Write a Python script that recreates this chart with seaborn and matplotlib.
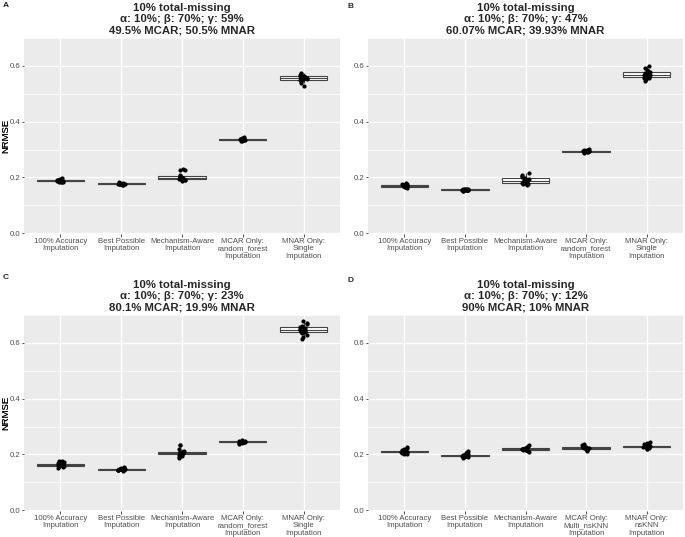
import numpy as np
import pandas as pd
import matplotlib
matplotlib.use("Agg")
import matplotlib.pyplot as plt
import seaborn as sns
from matplotlib.ticker import MultipleLocator

# Method labels
methods_rf = ["100% Accuracy\nImputation", "Best Possible\nImputation",
              "Mechanism-Aware\nImputation", "MCAR Only:\nrandom_forest\nImputation",
              "MNAR Only:\nSingle\nImputation"]
methods_knn = ["100% Accuracy\nImputation", "Best Possible\nImputation",
               "Mechanism-Aware\nImputation", "MCAR Only:\nMulti_nsKNN\nImputation",
               "MNAR Only:\nnsKNN\nImputation"]

titles = ["10% total-missing\nα: 10%; β: 70%; γ: 59%\n49.5% MCAR; 50.5% MNAR",
          "10% total-missing\nα: 10%; β: 70%; γ: 47%\n60.07% MCAR; 39.93% MNAR",
          "10% total-missing\nα: 10%; β: 70%; γ: 23%\n80.1% MCAR; 19.9% MNAR",
          "10% total-missing\nα: 10%; β: 70%; γ: 12%\n90% MCAR; 10% MNAR"]
panel_tags = ["A", "B", "C", "D"]

# NRMSE values
# Panel A
a_acc = [0.183, 0.185, 0.186, 0.187, 0.188, 0.184, 0.189, 0.190, 0.186, 0.187, 0.192, 0.195, 0.198, 0.182, 0.188, 0.191]
a_best = [0.175, 0.176, 0.177, 0.178, 0.177, 0.179, 0.176, 0.180, 0.178, 0.174, 0.177, 0.183, 0.181, 0.175, 0.178, 0.172]
a_mech = [0.190, 0.192, 0.194, 0.196, 0.197, 0.198, 0.200, 0.202, 0.195, 0.193, 0.204, 0.203, 0.186, 0.225, 0.230, 0.228, 0.210, 0.199]
a_mcar = [0.332, 0.334, 0.335, 0.336, 0.337, 0.338, 0.333, 0.335, 0.336, 0.339, 0.341, 0.344, 0.330, 0.334, 0.337, 0.335]
a_mnar = [0.548, 0.550, 0.552, 0.554, 0.556, 0.557, 0.559, 0.561, 0.563, 0.565, 0.568, 0.572, 0.576, 0.545, 0.540, 0.528, 0.553, 0.558]

# Panel B
b_acc = [0.164, 0.166, 0.167, 0.168, 0.169, 0.170, 0.172, 0.174, 0.175, 0.178, 0.180, 0.162, 0.168, 0.171, 0.165, 0.176]
b_best = [0.153, 0.154, 0.155, 0.156, 0.156, 0.157, 0.155, 0.158, 0.159, 0.157, 0.154, 0.156, 0.160, 0.152, 0.156, 0.155]
b_mech = [0.172, 0.176, 0.179, 0.181, 0.183, 0.185, 0.186, 0.188, 0.190, 0.192, 0.195, 0.197, 0.200, 0.205, 0.210, 0.215, 0.184, 0.178]
b_mcar = [0.289, 0.291, 0.292, 0.293, 0.294, 0.294, 0.295, 0.296, 0.297, 0.298, 0.300, 0.302, 0.293, 0.295, 0.291, 0.296]
b_mnar = [0.546, 0.552, 0.556, 0.558, 0.561, 0.564, 0.566, 0.568, 0.570, 0.573, 0.576, 0.579, 0.582, 0.586, 0.591, 0.600, 0.560, 0.567]

# Panel C
c_acc = [0.153, 0.156, 0.158, 0.159, 0.160, 0.161, 0.162, 0.163, 0.164, 0.165, 0.166, 0.168, 0.171, 0.175, 0.178, 0.160]
c_best = [0.141, 0.143, 0.144, 0.145, 0.146, 0.146, 0.147, 0.148, 0.149, 0.151, 0.154, 0.145, 0.147, 0.143, 0.150, 0.146]
c_mech = [0.186, 0.190, 0.196, 0.199, 0.201, 0.202, 0.203, 0.204, 0.205, 0.206, 0.207, 0.208, 0.210, 0.213, 0.218, 0.232, 0.233, 0.204]
c_mcar = [0.239, 0.241, 0.242, 0.243, 0.244, 0.245, 0.245, 0.246, 0.247, 0.248, 0.249, 0.251, 0.244, 0.246, 0.243, 0.247]
c_mnar = [0.615, 0.622, 0.628, 0.634, 0.638, 0.640, 0.642, 0.644, 0.645, 0.647, 0.649, 0.652, 0.655, 0.658, 0.662, 0.668, 0.673, 0.678, 0.641, 0.646]

# Panel D
d_acc = [0.200, 0.203, 0.205, 0.207, 0.208, 0.209, 0.210, 0.210, 0.211, 0.212, 0.213, 0.215, 0.218, 0.222, 0.226, 0.209]
d_best = [0.188, 0.190, 0.192, 0.193, 0.194, 0.195, 0.196, 0.196, 0.197, 0.198, 0.199, 0.201, 0.204, 0.208, 0.212, 0.195]
d_mech = [0.210, 0.212, 0.214, 0.216, 0.217, 0.218, 0.219, 0.219, 0.220, 0.221, 0.222, 0.224, 0.227, 0.231, 0.235, 0.218]
d_mcar = [0.213, 0.216, 0.218, 0.220, 0.221, 0.222, 0.223, 0.223, 0.224, 0.225, 0.226, 0.228, 0.231, 0.235, 0.238, 0.222]
d_mnar = [0.218, 0.221, 0.223, 0.225, 0.226, 0.227, 0.228, 0.228, 0.229, 0.230, 0.231, 0.233, 0.236, 0.240, 0.245, 0.227]

panels = [
    (methods_rf, [a_acc, a_best, a_mech, a_mcar, a_mnar]),
    (methods_rf, [b_acc, b_best, b_mech, b_mcar, b_mnar]),
    (methods_rf, [c_acc, c_best, c_mech, c_mcar, c_mnar]),
    (methods_knn, [d_acc, d_best, d_mech, d_mcar, d_mnar]),
]

sns.set_theme(style="darkgrid", rc={"axes.facecolor": "#EBEBEB", "grid.color": "white"})
plt.rcParams['font.family'] = ['Liberation Sans', 'DejaVu Sans']

np.random.seed(3)
W, H = 685, 537
fig = plt.figure(figsize=(W / 100, H / 100), dpi=100)

# panel boxes in pixels: left, top, right, bottom
boxes = [(24, 38, 340, 234), (368, 38, 683, 234),
         (24, 315, 340, 511), (368, 315, 683, 511)]
tag_pos = [(3, 2), (348, 3), (3, 274), (348, 277)]

for i, (methods, series) in enumerate(panels):
    l, t, r, b = boxes[i]
    ax = fig.add_axes([l / W, 1 - b / H, (r - l) / W, (b - t) / H])
    df = pd.DataFrame({
        "method": np.repeat(methods, [len(s) for s in series]),
        "nrmse": np.concatenate(series),
    })
    sns.boxplot(data=df, x="method", y="nrmse", order=methods, color="white",
                linecolor="#444444", linewidth=0.8, width=0.78,
                showfliers=False, showcaps=False, ax=ax)
    sns.stripplot(data=df, x="method", y="nrmse", order=methods, color="black",
                  size=3.0, jitter=0.06, ax=ax)
    ax.set_ylim(-0.003, 0.70)
    ax.set_xlim(-0.6, 4.6)
    ax.yaxis.set_minor_locator(MultipleLocator(0.1))
    ax.set_yticks([0.0, 0.2, 0.4, 0.6])
    ax.set_yticklabels(["0.0", "0.2", "0.4", "0.6"])
    ax.grid(True, which="major", axis="both", color="white", linewidth=1.0)
    ax.grid(True, which="minor", axis="y", color="white", linewidth=0.5)
    ax.set_axisbelow(True)
    for sp in ax.spines.values():
        sp.set_visible(False)
    ax.tick_params(axis="both", which="major", length=1.8, width=0.6,
                   color="#333333", labelcolor="#4D4D4D", labelsize=5.6, pad=0.8)
    ax.tick_params(axis="both", which="minor", length=0)
    ax.tick_params(axis="x", which="major", bottom=True)
    ax.tick_params(axis="y", which="major", left=True)
    for lab in ax.get_xticklabels():
        lab.set_linespacing(1.12)
    ax.set_xlabel("")
    ax.set_ylabel("NRMSE", fontsize=6.8, color="black")
    ax.yaxis.set_label_coords((10 - l) / (r - l), 0.5)
    ax.set_title(titles[i], fontsize=8.2, fontweight="bold", linespacing=1.2, pad=3)
    fig.text(tag_pos[i][0] / W, 1 - tag_pos[i][1] / H, panel_tags[i],
             fontsize=6, fontweight="bold", va="top", ha="left")

fig.savefig("out.png", dpi=100)
